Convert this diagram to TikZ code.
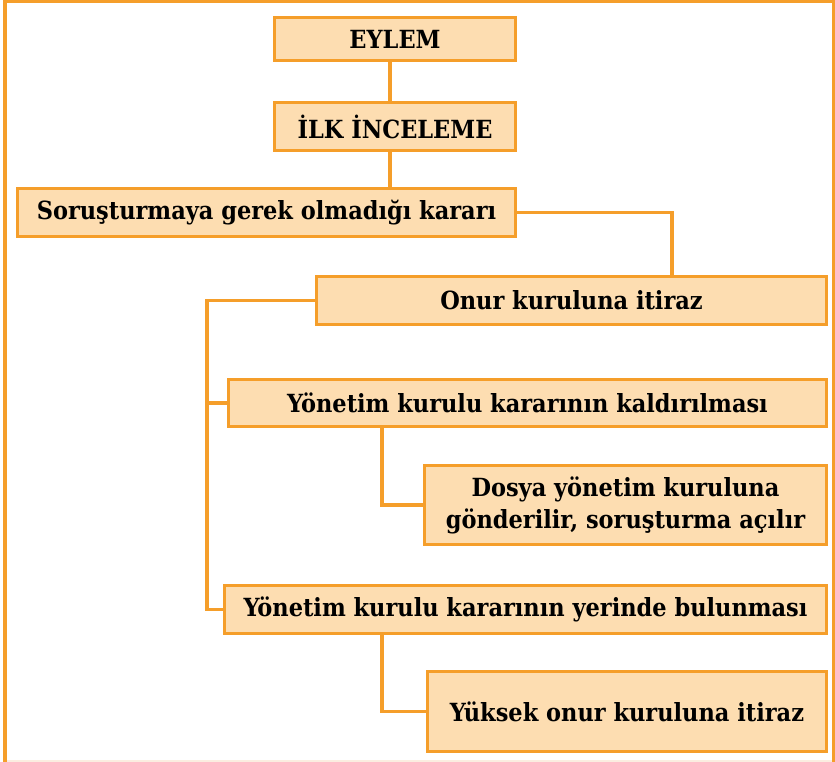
\documentclass[tikz,border=0pt]{standalone}
\usepackage{fontspec}
\setmainfont{DejaVu Serif Condensed}
\usetikzlibrary{positioning}
\definecolor{edge}{HTML}{F59E2A}
\definecolor{boxfill}{HTML}{FDDDB1}
\definecolor{faint}{HTML}{FBEDE0}
\tikzset{
  box/.style={draw=edge, fill=boxfill, line width=3.5pt, inner sep=0pt, align=center,
    font=\fontsize{25}{32}\selectfont\bfseries},
  link/.style={draw=edge, line width=3.5pt},
}
\begin{document}
\begin{tikzpicture}[x=1pt,y=-1pt]
\useasboundingbox (0,0) rectangle (835,762);
\draw[faint, line width=2pt] (5,761) -- (834,761);
\draw[edge, line width=3.5pt] (5,762) -- (5,1.5) -- (834,1.5) -- (834,762);

\node[box, minimum width=241pt, minimum height=43pt] (eylem) at (395,39) {EYLEM};
\node[box, minimum width=241pt, minimum height=48pt] (ilk) at (395,126.5) {İLK İNCELEME};
\node[box, minimum width=498pt, minimum height=48pt] (soru) at (266.5,212.5) {Soruşturmaya gerek olmadığı kararı};
\node[box, minimum width=510pt, minimum height=48pt] (onur) at (571.5,300.5) {Onur kuruluna itiraz};
\node[box, minimum width=598pt, minimum height=47pt] (yon1) at (527.5,403) {Yönetim kurulu kararının kaldırılması};
\node[box, minimum width=402pt, minimum height=79pt] (dosya) at (625.5,505) {Dosya yönetim kuruluna\\gönderilir, soruşturma açılır};
\node[box, minimum width=602pt, minimum height=48pt] (yon2) at (525.5,609.5) {Yönetim kurulu kararının yerinde bulunması};
\node[box, minimum width=399pt, minimum height=80pt] (yuksek) at (627,711.5) {Yüksek onur kuruluna itiraz};

\coordinate (top) at (390,0);
\coordinate (drop) at (672,0);
\coordinate (spine) at (207,0);
\coordinate (sub) at (382,0);

\draw[link] (eylem.south -| top) -- (ilk.north -| top);
\draw[link] (ilk.south -| top) -- (soru.north -| top);
\draw[link] (soru.east) -| (onur.north -| drop);
\draw[link] (onur.west) -- (onur.west -| spine) |- (yon2.west);
\draw[link] (yon1.west -| spine) -- (yon1.west);
\draw[link] (yon1.south -| sub) |- (dosya.west);
\draw[link] (yon2.south -| sub) |- (yuksek.west);
\end{tikzpicture}
\end{document}
